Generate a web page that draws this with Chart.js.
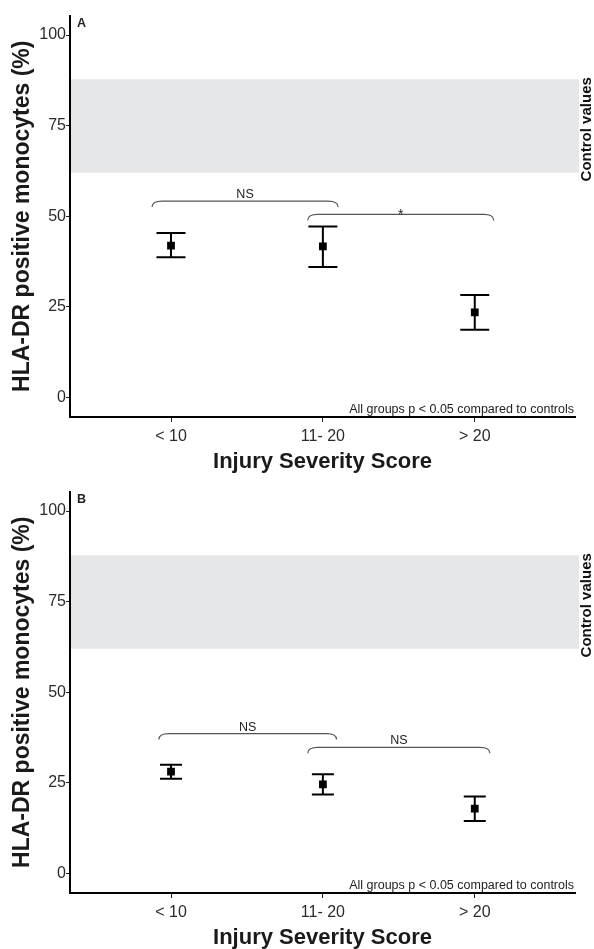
<!DOCTYPE html>
<html>
<head>
<meta charset="utf-8">
<script src="https://cdn.jsdelivr.net/npm/chart.js@4.4.1/dist/chart.umd.min.js"></script>
<style>
  html, body { margin: 0; padding: 0; background: #fff; overflow: hidden; }
  canvas { display: block; }
</style>
</head>
<body>
<canvas id="panelA" width="594" height="476"></canvas>
<canvas id="panelB" width="594" height="476"></canvas>
<script>
// Injury severity groups and axis ticks
const categories = ['< 10', '11- 20', '> 20'];
const yTicks = [0, 25, 50, 75, 100];
const controlRange = [62, 87.8];

// Panel A: mean and error limits (%)
const meanA  = [41.9, 41.7, 23.5];
const upperA = [45.4, 47.2, 28.3];
const lowerA = [38.7, 36.0, 18.7];

// Panel B: mean and error limits (%)
const meanB  = [28.1, 24.6, 17.9];
const upperB = [30.0, 27.4, 21.2];
const lowerB = [26.1, 21.8, 14.5];

// Pairwise comparisons between groups
const comparisonsA = [
  { pair: [0, 1], level: 54.2, label: 'NS' },
  { pair: [1, 2], level: 50.5, label: '*' }
];
const comparisonsB = [
  { pair: [0, 1], level: 38.6, label: 'NS' },
  { pair: [1, 2], level: 34.8, label: 'NS' }
];

const FONT = '"Liberation Sans", Arial, Helvetica, sans-serif';

// Draws the control band, error bars, comparison brackets and notes
const panelDecor = {
  id: 'panelDecor',
  beforeDatasetsDraw(chart, args, o) {
    const { ctx, chartArea: a, scales: { x, y } } = chart;
    ctx.save();
    const yTop = y.getPixelForValue(o.band[1]);
    const yBot = y.getPixelForValue(o.band[0]);
    ctx.fillStyle = '#e6e7e8';
    ctx.fillRect(a.left + 1, yTop, a.right - a.left + 3, yBot - yTop);

    ctx.strokeStyle = '#000';
    ctx.lineWidth = 2;
    o.upper.forEach((u, i) => {
      const px = x.getPixelForValue(i + 1);
      const pu = y.getPixelForValue(u);
      const pl = y.getPixelForValue(o.lower[i]);
      ctx.beginPath();
      ctx.moveTo(px, pu); ctx.lineTo(px, pl);
      ctx.moveTo(px - o.cap, pu); ctx.lineTo(px + o.cap, pu);
      ctx.moveTo(px - o.cap, pl); ctx.lineTo(px + o.cap, pl);
      ctx.stroke();
    });
    ctx.restore();
  },
  afterDatasetsDraw(chart, args, o) {
    const { ctx, chartArea: a, scales: { x, y } } = chart;
    ctx.save();
    // brackets
    o.comparisons.forEach((c, k) => {
      const reach = o.reach[k];
      const x0 = x.getPixelForValue(c.pair[0] + 1 - reach[0]);
      const x1 = x.getPixelForValue(c.pair[1] + 1 + reach[1]);
      const yl = y.getPixelForValue(c.level);
      const drop = 6, r = 10;
      ctx.strokeStyle = '#555';
      ctx.lineWidth = 1.2;
      ctx.beginPath();
      ctx.moveTo(x0, yl + drop);
      ctx.quadraticCurveTo(x0, yl, x0 + r, yl);
      ctx.lineTo(x1 - r, yl);
      ctx.quadraticCurveTo(x1, yl, x1, yl + drop);
      ctx.stroke();
      ctx.fillStyle = '#222';
      ctx.textAlign = 'center';
      ctx.textBaseline = 'alphabetic';
      const mid = (x0 + x1) / 2;
      if (c.label === '*') {
        ctx.font = '14px ' + FONT;
        ctx.fillText(c.label, mid, yl + 5);
      } else {
        ctx.font = '12.5px ' + FONT;
        ctx.fillText(c.label, mid, yl - 3);
      }
    });

    // note above the x axis
    ctx.fillStyle = '#222';
    ctx.font = '12.5px ' + FONT;
    ctx.textAlign = 'right';
    ctx.textBaseline = 'alphabetic';
    ctx.fillText('All groups p < 0.05 compared to controls', a.right - 1, a.bottom - 4);

    // panel letter
    ctx.font = 'bold 12.5px ' + FONT;
    ctx.textAlign = 'left';
    ctx.textBaseline = 'top';
    ctx.fillText(o.letter, a.left + 7, a.top + 2);

    // band label at the right edge
    ctx.save();
    ctx.translate(587, y.getPixelForValue(74));
    ctx.rotate(-Math.PI / 2);
    ctx.font = 'bold 15px ' + FONT;
    ctx.textAlign = 'center';
    ctx.textBaseline = 'middle';
    ctx.fillStyle = '#111';
    ctx.fillText('Control values', 0, 0);
    ctx.restore();

    ctx.restore();
  }
};

function makePanel(id, letter, mean, upper, lower, comparisons, reach, cap) {
  return new Chart(document.getElementById(id), {
    type: 'scatter',
    data: {
      datasets: [{
        data: categories.map((c, i) => ({ x: i + 1, y: mean[i] })),
        pointStyle: 'rect',
        pointRadius: 5.5,
        pointHoverRadius: 5.5,
        backgroundColor: '#000',
        borderWidth: 0
      }]
    },
    options: {
      responsive: false,
      animation: false,
      devicePixelRatio: 1,
      layout: { padding: { left: 0, right: 19, top: 15.5, bottom: 0 } },
      plugins: {
        legend: { display: false },
        tooltip: { enabled: false },
        panelDecor: { letter, upper, lower, comparisons, reach, cap, band: controlRange }
      },
      scales: {
        x: {
          type: 'linear',
          min: 0.335,
          max: 3.66,
          afterBuildTicks: s => { s.ticks = categories.map((c, i) => ({ value: i + 1 })); },
          afterFit: s => { s.height = 59; },
          grid: { drawOnChartArea: false, drawTicks: true, tickLength: 5, color: '#222', lineWidth: 1 },
          border: { display: true, color: '#000', width: 2 },
          ticks: {
            autoSkip: false,
            maxRotation: 0,
            padding: 5,
            color: '#2b2b2b',
            font: { family: FONT, size: 16 },
            callback: v => categories[v - 1]
          },
          title: {
            display: true,
            text: 'Injury Severity Score',
            color: '#1a1a1a',
            font: { family: FONT, size: 22, weight: 'bold' },
            padding: { top: 0, bottom: 1 }
          }
        },
        y: {
          min: -5.4,
          max: 105.4,
          afterBuildTicks: s => { s.ticks = yTicks.map(v => ({ value: v })); },
          afterFit: s => { s.width = 70; },
          grid: { drawOnChartArea: false, drawTicks: true, tickLength: 4, color: '#222', lineWidth: 1 },
          border: { display: true, color: '#000', width: 2 },
          ticks: {
            padding: 0,
            color: '#2b2b2b',
            font: { family: FONT, size: 16 }
          },
          title: {
            display: true,
            text: 'HLA-DR positive monocytes (%)',
            color: '#1a1a1a',
            font: { family: FONT, size: 23, weight: 'bold' },
            padding: { top: 9, bottom: 0 }
          }
        }
      }
    },
    plugins: [panelDecor]
  });
}

makePanel('panelA', 'A', meanA, upperA, lowerA, comparisonsA, [[0.125, 0.1], [0.1, 0.125]], 14.5);
makePanel('panelB', 'B', meanB, upperB, lowerB, comparisonsB, [[0.08, 0.09], [0.1, 0.1]], 11);
</script>
</body>
</html>
